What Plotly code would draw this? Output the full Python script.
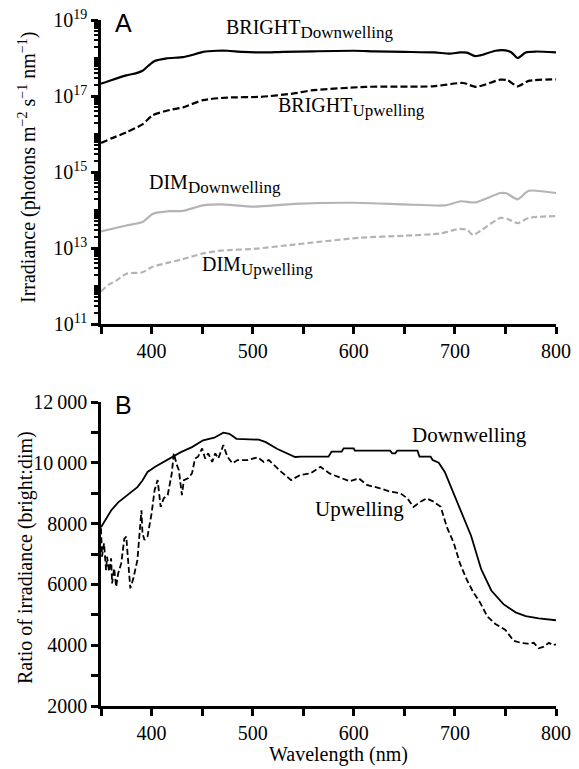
import plotly.graph_objects as go

# ---------------- Panel A data (irradiance, photons m^-2 s^-1 nm^-1) ----------------
wl_bright_down = [350, 360, 375, 385, 391, 397, 403, 415, 431, 440, 451, 465, 475, 490, 510, 530, 560, 600,
                  620, 650, 680, 695, 705, 712, 720, 728, 740, 750, 756, 762, 770, 780, 800]
bright_down = [2.1e17, 2.6e17, 3.5e17, 4.0e17, 4.6e17, 6.3e17, 8.3e17, 9.8e17, 1.05e18, 1.2e18, 1.45e18,
               1.55e18, 1.55e18, 1.45e18, 1.4e18, 1.45e18, 1.5e18, 1.55e18, 1.5e18, 1.45e18, 1.4e18,
               1.3e18, 1.4e18, 1.38e18, 1.12e18, 1.23e18, 1.55e18, 1.58e18, 1.4e18, 1.0e18, 1.4e18,
               1.48e18, 1.4e18]

wl_bright_up = [350, 360, 375, 391, 401, 418, 431, 451, 475, 508, 541, 558, 612, 678, 708, 721, 745, 752,
                762, 773, 800]
bright_up = [5.8e15, 7.6e15, 1.1e16, 1.8e16, 3.1e16, 4.3e16, 5.0e16, 7.8e16, 9.1e16, 9.5e16, 1.17e17,
             1.4e17, 1.74e17, 1.8e17, 2.2e17, 1.74e17, 2.7e17, 2.6e17, 1.8e17, 2.5e17, 2.75e17]

wl_dim_down = [350, 375, 391, 401, 418, 431, 451, 468, 501, 541, 600, 650, 690, 706, 720, 745, 751, 762,
               773, 800]
dim_down = [2.75e13, 3.9e13, 4.8e13, 7.9e13, 9.3e13, 9.5e13, 1.32e14, 1.41e14, 1.23e14, 1.45e14, 1.55e14,
            1.41e14, 1.32e14, 1.7e14, 1.58e14, 2.8e14, 2.75e14, 1.9e14, 3.2e14, 2.8e14]

wl_dim_up = [350, 358, 365, 375, 391, 401, 418, 431, 451, 468, 501, 541, 606, 650, 685, 705, 712, 718,
             725, 745, 752, 762, 773, 800]
dim_up = [7.2e11, 1.1e12, 1.38e12, 2.1e12, 2.3e12, 3.2e12, 4.2e12, 5.1e12, 7.2e12, 8.5e12, 9.5e12,
          1.23e13, 1.86e13, 2.1e13, 2.4e13, 3.2e13, 3.0e13, 2.2e13, 2.8e13, 6.2e13, 5.8e13, 4.5e13,
          6.2e13, 6.9e13]

# ---------------- Panel B data (ratio bright:dim) ----------------
wl_ratio_down = [350, 355, 360, 367, 375, 386, 391, 396, 404, 415, 422, 429, 440, 451, 462, 471, 477, 484,
                 506, 513, 524, 535, 542, 548, 575, 578, 588, 590, 600, 601, 636, 638, 641, 643, 663, 665,
                 676, 678, 684, 690, 698, 707, 716, 726, 736, 748, 760, 770, 783, 800]
ratio_down = [7880, 8150, 8430, 8700, 8920, 9200, 9420, 9700, 9880, 10075, 10210, 10350, 10515, 10740,
              10825, 10990, 10955, 10790, 10760, 10680, 10460, 10300, 10190, 10200, 10200, 10365, 10365,
              10475, 10475, 10400, 10400, 10310, 10310, 10400, 10400, 10200, 10200, 10090, 10000, 9700,
              9050, 8330, 7600, 6500, 5800, 5350, 5080, 4960, 4880, 4820]

wl_ratio_up = [350, 351, 353, 355, 356, 358, 360, 361, 363, 365, 367, 370, 373, 375, 376, 379, 382, 386,
               390, 391, 393, 396, 400, 403, 406, 409, 412, 416, 420, 422, 425, 427, 430, 432, 436, 440,
               443, 446, 450, 453, 456, 460, 463, 466, 471, 475, 480, 485, 495, 505, 511, 516, 528, 538,
               547, 557, 567, 576, 586, 596, 605, 613, 626, 636, 646, 653, 659, 666, 672, 679, 686, 692,
               699, 705, 712, 718, 725, 732, 740, 750, 758, 765, 772, 778, 783, 788, 793, 797, 800]
ratio_up = [7845, 6910, 7350, 6470, 6910, 6420, 6860, 6030, 6530, 5920, 6360, 6690, 7500, 7570, 7130, 5870,
            6200, 6800, 8440, 7680, 7460, 7570, 8330, 9100, 9430, 8550, 8830, 8940, 9650, 10310, 9930,
            9760, 8940, 9430, 9490, 9650, 10140, 10200, 10470, 10140, 10310, 10030, 10310, 10140, 10580,
            10200, 9980, 10090, 10090, 10180, 10030, 10090, 9710, 9430, 9600, 9650, 9870, 9650, 9520,
            9390, 9490, 9270, 9160, 9050, 9000, 8830, 8550, 8720, 8830, 8720, 8550, 7890, 7350, 6690,
            6140, 5750, 5400, 4950, 4700, 4500, 4150, 4080, 4050, 4080, 3900, 3950, 4080, 4000, 4030]

# ---------------- tick labels ----------------
x_tickvals = [400, 500, 600, 700, 800]
x_minor = [350, 450, 550, 650, 750]
a_tickvals = [1e11, 1e13, 1e15, 1e17, 1e19]
a_ticktext = ["10<sup>11</sup>", "10<sup>13</sup>", "10<sup>15</sup>", "10<sup>17</sup>", "10<sup>19</sup>"]
b_tickvals = [2000, 4000, 6000, 8000, 10000, 12000]
b_ticktext = ["2000", "4000", "6000", "8000", "10\u2009000", "12\u2009000"]
b_minor = [3000, 5000, 7000, 9000, 11000]

a_minor = [m * 10 ** e for e in range(11, 19) for m in range(2, 10)] + [1e12, 1e14, 1e16, 1e18]

# page layout (page pixels); the page body adds an 8px offset
OFF = 8
PAGE_W, PAGE_H = 579, 769
W, H = PAGE_W - OFF, PAGE_H - OFF
L, R, T, B = 101, 556, 20, 706
A_BOTTOM, B_TOP = 324, 402


def px(x):
    return (x - L) / (R - L)


def py(y):
    return (B - y) / (B - T)


SERIF = "Liberation Serif"
SANS = "Liberation Sans"
BLACK = "#000000"
GREY = "#b4b4b4"

fig = go.Figure()
fig.add_trace(go.Scatter(x=wl_bright_down, y=bright_down, mode="lines", line=dict(color=BLACK, width=2.2, shape="spline", smoothing=0.6), xaxis="x", yaxis="y"))
fig.add_trace(go.Scatter(x=wl_bright_up, y=bright_up, mode="lines", line=dict(color=BLACK, width=2.2, dash="7px,3px", shape="spline", smoothing=0.6), xaxis="x", yaxis="y"))
fig.add_trace(go.Scatter(x=wl_dim_down, y=dim_down, mode="lines", line=dict(color=GREY, width=2.2, shape="spline", smoothing=0.6), xaxis="x", yaxis="y"))
fig.add_trace(go.Scatter(x=wl_dim_up, y=dim_up, mode="lines", line=dict(color=GREY, width=2.2, dash="6px,3px", shape="spline", smoothing=0.6), xaxis="x", yaxis="y"))

fig.add_trace(go.Scatter(x=wl_ratio_down, y=ratio_down, mode="lines", line=dict(color=BLACK, width=1.8), xaxis="x2", yaxis="y2"))
fig.add_trace(go.Scatter(x=wl_ratio_up, y=ratio_up, mode="lines", line=dict(color=BLACK, width=1.8, dash="6px,3px"), xaxis="x2", yaxis="y2"))

axis_common = dict(showline=True, linecolor=BLACK, linewidth=2.5, showgrid=False, zeroline=False,
                   ticks="outside", ticklen=7, tickwidth=2.5, tickcolor=BLACK, automargin=False,
                   ticklabeloverflow="allow",
                   tickfont=dict(family=SERIF, size=20, color=BLACK), mirror=False)

a_dom = [py(A_BOTTOM), 1.0]
b_dom = [0.0, py(B_TOP)]

fig.update_layout(
    template="none",
    width=W, height=H,
    margin=dict(l=L - OFF, r=PAGE_W - R, t=T - OFF, b=PAGE_H - B, autoexpand=False),
    paper_bgcolor="white", plot_bgcolor="white",
    showlegend=False,
    font=dict(family=SERIF, size=20, color=BLACK),
    xaxis=dict(**axis_common, domain=[0, 1], anchor="y", range=[350, 800], tickvals=x_tickvals,
               ticktext=[str(v) for v in x_tickvals],
               minor=dict(tickvals=x_minor, ticks="outside", ticklen=7, tickwidth=2.5, tickcolor=BLACK)),
    yaxis=dict(**axis_common, domain=a_dom, anchor="x", type="log", range=[11, 19], tickvals=a_tickvals,
               ticktext=a_ticktext,
               minor=dict(tickvals=a_minor, ticks="outside", ticklen=4, tickwidth=2, tickcolor=BLACK)),
    xaxis2=dict(**axis_common, domain=[0, 1], anchor="y2", range=[350, 800], tickvals=x_tickvals,
                ticktext=[str(v) for v in x_tickvals],
                minor=dict(tickvals=x_minor, ticks="outside", ticklen=7, tickwidth=2.5, tickcolor=BLACK)),
    yaxis2=dict(**axis_common, domain=b_dom, anchor="x2", range=[2000, 12000], tickvals=b_tickvals,
                ticktext=b_ticktext,
                minor=dict(tickvals=b_minor, ticks="outside", ticklen=7, tickwidth=2.5, tickcolor=BLACK)),
)


def ann(text, x, y, size=20, xanchor="left", yanchor="middle", angle=0, family=SERIF):
    fig.add_annotation(text=text, x=px(x), y=py(y), xref="paper", yref="paper", showarrow=False,
                       xanchor=xanchor, yanchor=yanchor, textangle=angle,
                       font=dict(family=family, size=size, color=BLACK))


SUB = '<sub><span style="font-size:17px">{}</span></sub>'

ann("BRIGHT" + SUB.format("Downwelling"), 224, 29)
ann("BRIGHT" + SUB.format("Upwelling"), 276, 107)
ann("DIM" + SUB.format("Downwelling"), 147, 184)
ann("DIM" + SUB.format("Upwelling"), 200, 266)

ann("Downwelling", 410, 435, size=21)
ann("Upwelling", 313, 509, size=21)

ann("A", 113, 23, size=25, family=SANS)
ann("B", 113, 405, size=25, family=SANS)

ann("Irradiance (photons m<sup>\u22122</sup> s<sup>\u22121</sup> nm<sup>\u22121</sup>)", 28, 168,
    xanchor="center", angle=-90)
ann("Ratio of irradiance (bright:dim)", 25, 558, xanchor="center", angle=-90)
ann("Wavelength (nm)", 338, 754, xanchor="center")

fig.write_html("out.html")
